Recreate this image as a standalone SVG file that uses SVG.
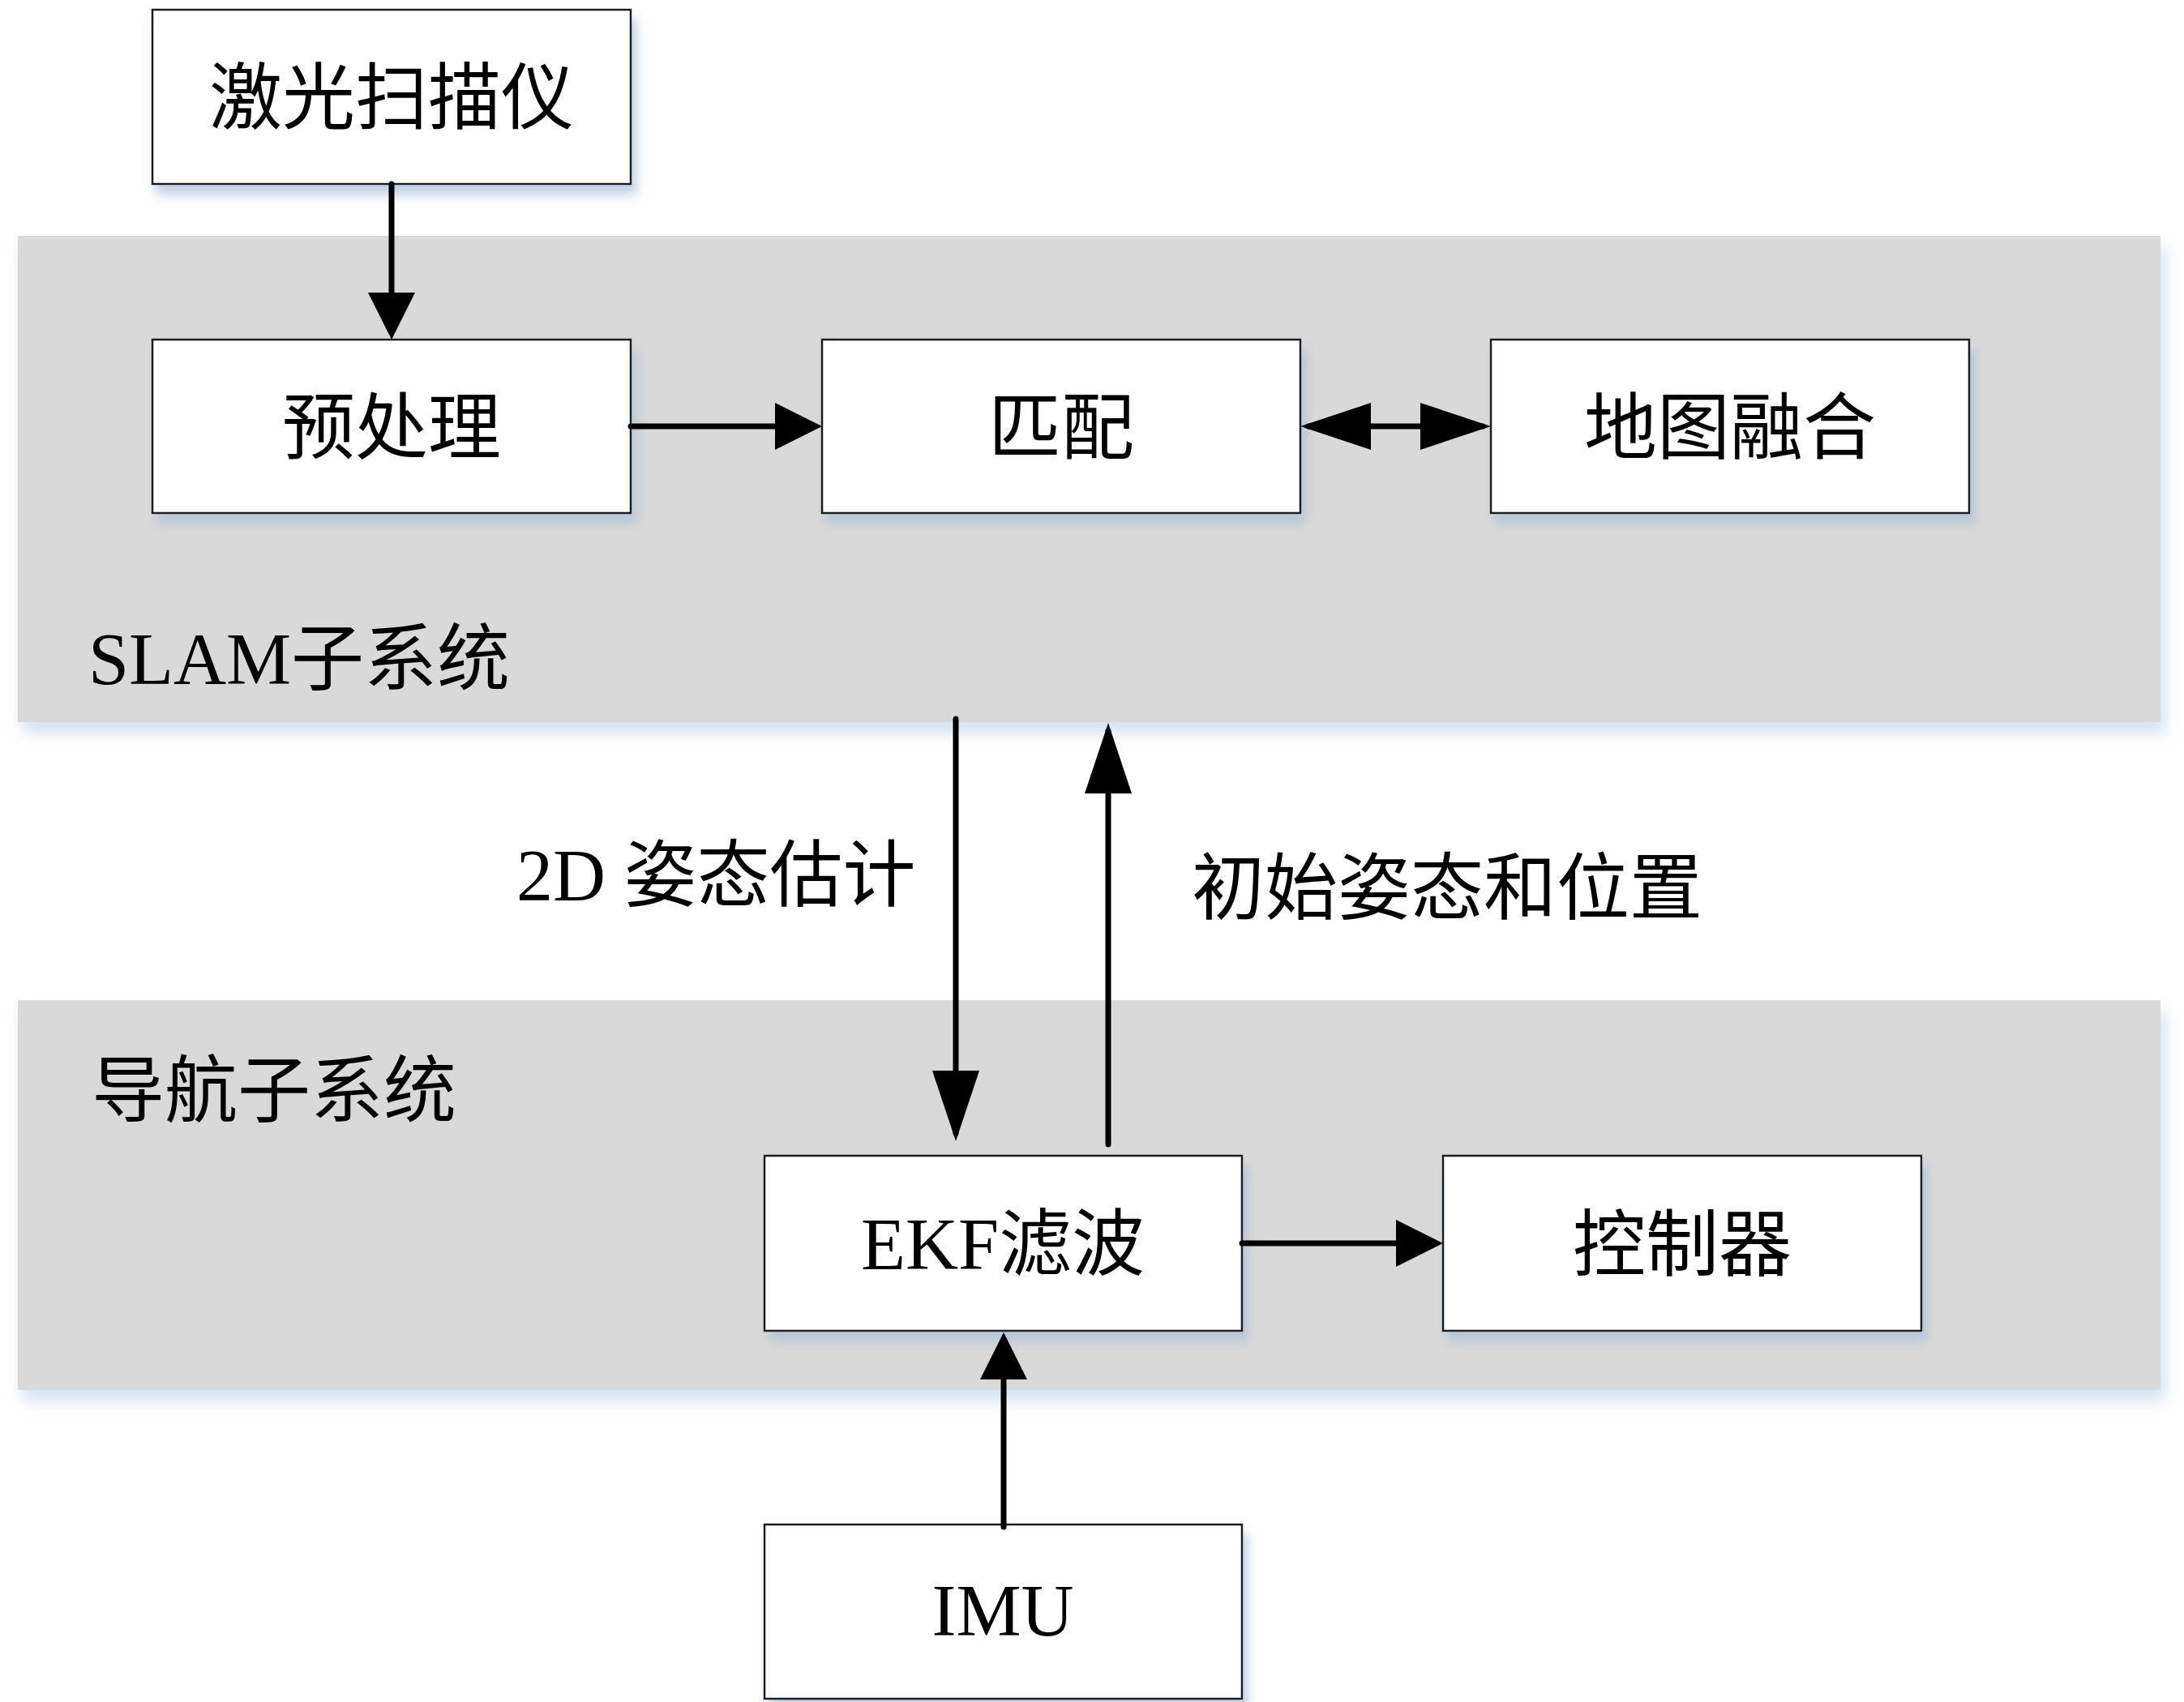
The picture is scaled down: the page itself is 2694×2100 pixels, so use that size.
<svg xmlns="http://www.w3.org/2000/svg" width="2694" height="2100" viewBox="0 0 2694 2100">
<style>
.band{fill:#d9d9d9;filter:url(#bandShadow)}
.box{fill:#ffffff;stroke:#1a1a1a;stroke-width:2.5;filter:url(#boxShadow)}
.lbl{font-family:"Liberation Serif","Noto Sans CJK SC",serif;font-size:90px;fill:#000}
.mid{text-anchor:middle}
.conn{stroke:#000;stroke-width:7;fill:none;stroke-linecap:round}
</style>
<defs>
<filter id="boxShadow" x="-10%" y="-10%" width="125%" height="140%">
<feGaussianBlur in="SourceAlpha" stdDeviation="7"/>
<feOffset dx="6" dy="12" result="b"/>
<feFlood flood-color="#a9bfd6" flood-opacity="0.75"/>
<feComposite in2="b" operator="in"/>
<feMerge><feMergeNode/><feMergeNode in="SourceGraphic"/></feMerge>
</filter>
<filter id="bandShadow" x="-5%" y="-5%" width="110%" height="120%">
<feGaussianBlur in="SourceAlpha" stdDeviation="9"/>
<feOffset dx="6" dy="14" result="b"/>
<feFlood flood-color="#c9dbee" flood-opacity="0.8"/>
<feComposite in2="b" operator="in"/>
<feMerge><feMergeNode/><feMergeNode in="SourceGraphic"/></feMerge>
</filter>
<marker id="arr" markerUnits="userSpaceOnUse" markerWidth="58" markerHeight="58" viewBox="0 0 58 58" refX="48" refY="29" orient="auto-start-reverse">
<path d="M0,0 L58,29 L0,58 z" fill="#000"/>
</marker>
<marker id="arrLong" markerUnits="userSpaceOnUse" markerWidth="87" markerHeight="58" viewBox="0 0 87 58" refX="77" refY="29" orient="auto-start-reverse">
<path d="M0,0 L87,29 L0,58 z" fill="#000"/>
</marker>
</defs>
<rect width="2694" height="2100" fill="#fff"/>
<g id="slam-band">
<rect class="band" x="22" y="291" width="2643" height="600"/>
<text class="lbl" x="109" y="844">SLAM子系统</text>
</g>
<g id="nav-band">
<rect class="band" x="22" y="1234" width="2643" height="481"/>
<text class="lbl" x="113" y="1377">导航子系统</text>
</g>
<g id="laser">
<rect class="box" x="188" y="12" width="590" height="215"/>
<text class="lbl mid" x="483" y="152">激光扫描仪</text>
</g>
<g id="preprocess">
<rect class="box" x="188" y="419" width="590" height="214"/>
<text class="lbl mid" x="483" y="559">预处理</text>
</g>
<g id="match">
<rect class="box" x="1014" y="419" width="590" height="214"/>
<text class="lbl mid" x="1309" y="559">匹配</text>
</g>
<g id="mapfusion">
<rect class="box" x="1839" y="419" width="590" height="214"/>
<text class="lbl mid" x="2134" y="559">地图融合</text>
</g>
<g id="ekf">
<rect class="box" x="943" y="1426" width="589" height="216"/>
<text class="lbl mid" x="1237" y="1566">EKF滤波</text>
</g>
<g id="controller">
<rect class="box" x="1780" y="1426" width="590" height="216"/>
<text class="lbl mid" x="2075" y="1567">控制器</text>
</g>
<g id="imu">
<rect class="box" x="943" y="1881" width="589" height="215"/>
<text class="lbl mid" x="1237" y="2018">IMU</text>
</g>
<g id="connectors">
<line class="conn" x1="483" y1="227" x2="483" y2="409" marker-end="url(#arr)"/>
<line class="conn" x1="778" y1="526" x2="1004" y2="526" marker-end="url(#arr)"/>
<line class="conn" x1="1614" y1="526" x2="1829" y2="526" marker-start="url(#arrLong)" marker-end="url(#arrLong)"/>
<line class="conn" x1="1179" y1="887" x2="1179" y2="1398" marker-end="url(#arrLong)"/>
<line class="conn" x1="1367" y1="1412" x2="1367" y2="902" marker-end="url(#arrLong)"/>
<line class="conn" x1="1532" y1="1534" x2="1770" y2="1534" marker-end="url(#arr)"/>
<line class="conn" x1="1238" y1="1884" x2="1238" y2="1654" marker-end="url(#arr)"/>
<text class="lbl" x="637" y="1111">2D 姿态估计</text>
<text class="lbl" x="1470" y="1127">初始姿态和位置</text>
</g>
</svg>
